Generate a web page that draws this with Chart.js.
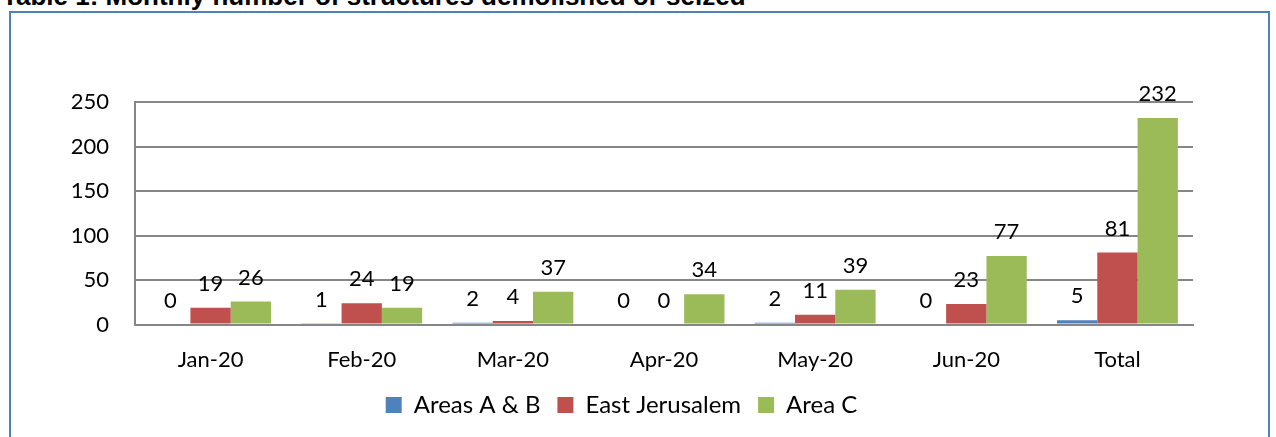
<!DOCTYPE html>
<html>
<head>
<meta charset="utf-8">
<script src="https://cdn.jsdelivr.net/npm/chart.js@4"></script>
<style>
  html, body { margin: 0; padding: 0; background: #fff; overflow: hidden; }
  #title { position: absolute; left: 2px; top: -19px; font: bold 26px "Liberation Sans", Arial, sans-serif; color: #000; white-space: nowrap; }
  #frame { position: absolute; left: 9px; top: 11px; width: 1261px; height: 440px; border: 2px solid #4F81BD; box-sizing: border-box; }
  #wrap { position: absolute; left: 0; top: 0; width: 1276px; height: 437px; }
</style>
</head>
<body>
<div id="title">Table 1: Monthly number of structures demolished or seized</div>
<div id="frame"></div>
<div id="wrap"><canvas id="chart"></canvas></div>
<script>
const categories = ['Jan-20', 'Feb-20', 'Mar-20', 'Apr-20', 'May-20', 'Jun-20', 'Total'];
const areasAB = [0, 1, 2, 0, 2, 0, 5];
const eastJerusalem = [19, 24, 4, 0, 11, 23, 81];
const areaC = [26, 19, 37, 34, 39, 77, 232];
const yTicks = [0, 50, 100, 150, 200, 250];

const fontFamily = 'Lato, "Open Sans", sans-serif';

// draws the value above every bar
const valueLabels = {
    id: 'valueLabels',
    afterDatasetsDraw(chart) {
        const ctx = chart.ctx;
        ctx.save();
        ctx.font = '22px ' + fontFamily;
        ctx.fillStyle = '#000';
        ctx.textAlign = 'center';
        ctx.textBaseline = 'middle';
        chart.data.datasets.forEach(function(ds, i) {
            chart.getDatasetMeta(i).data.forEach(function(bar, j) {
                ctx.fillText(String(ds.data[j]), bar.x, bar.y - 24);
            });
        });
        ctx.restore();
    }
};

const ctx = document.getElementById('chart').getContext('2d');
new Chart(ctx, {
    type: 'bar',
    data: {
        labels: categories,
        datasets: [
            { label: 'Areas A & B', data: areasAB, backgroundColor: '#4F81BD' },
            { label: 'East Jerusalem', data: eastJerusalem, backgroundColor: '#C0504D' },
            { label: 'Area C', data: areaC, backgroundColor: '#9BBB59' }
        ]
    },
    options: {
        responsive: true,
        maintainAspectRatio: false,
        animation: false,
        datasets: { bar: { categoryPercentage: 0.8, barPercentage: 1.0 } },
        layout: { padding: { left: 50, right: 83, top: 102, bottom: 10 } },
        plugins: {
            legend: {
                position: 'bottom',
                labels: {
                    font: { family: fontFamily, size: 24 },
                    color: '#000',
                    boxWidth: 16,
                    boxHeight: 16,
                    padding: 17
                }
            },
            tooltip: { enabled: false }
        },
        scales: {
            x: {
                afterFit(axis) { axis.height = axis.height - 19; },
                grid: { display: false, drawTicks: false },
                border: { color: '#868686', width: 2 },
                ticks: { color: '#000', font: { family: fontFamily, size: 22 }, padding: 22 }
            },
            y: {
                min: 0,
                max: 250,
                afterBuildTicks(axis) { axis.ticks = yTicks.map(v => ({ value: v })); },
                afterFit(axis) { axis.width = 85; },
                grid: { color: '#868686', lineWidth: 2, drawTicks: false },
                border: { color: '#868686', width: 2 },
                ticks: { color: '#000', font: { family: fontFamily, size: 22 }, padding: 26 }
            }
        }
    },
    plugins: [valueLabels]
});
</script>
</body>
</html>
